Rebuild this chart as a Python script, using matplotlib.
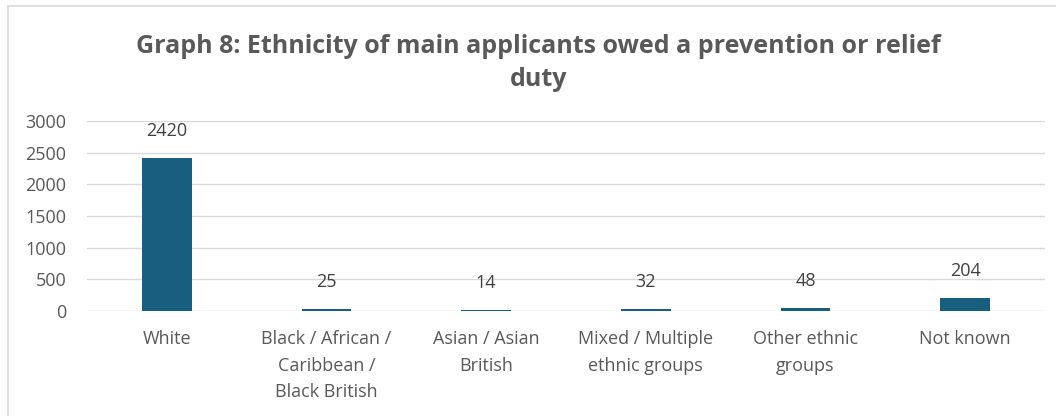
import matplotlib.pyplot as plt
from matplotlib.patches import Rectangle

# ---- data ----
categories = ["White", "Black / African /\nCaribbean /\nBlack British", "Asian / Asian\nBritish",
              "Mixed / Multiple\nethnic groups", "Other ethnic\ngroups", "Not known"]
counts = [2420, 25, 14, 32, 48, 204]
yticks = [0, 500, 1000, 1500, 2000, 2500, 3000]

bar_col = "#175e7f"
txt_col = "#595959"

plt.rcParams['font.family'] = ['Open Sans', 'DejaVu Sans']

W, H = 1056, 416
fig = plt.figure(figsize=(W / 100, H / 100), dpi=100)

# chart frame
fig.patches.append(Rectangle((8 / W, -0.1), 1.2, 1 - 6 / H + 0.1, transform=fig.transFigure,
                             facecolor="none", edgecolor="#d9d9d9", lw=1.2))

ax = fig.add_axes([87 / W, 1 - 311 / H, (1045 - 87) / W, (311 - 121) / H])
x = range(len(categories))
bars = ax.bar(x, counts, width=0.31, color=bar_col, zorder=3)
for b, v in zip(bars, counts):
    ax.annotate(str(v), (b.get_x() + b.get_width() / 2, v), xytext=(0, 13),
                textcoords="offset points", ha="center", va="bottom",
                fontsize=13, color="#404040")

ax.set_xlim(-0.5, len(categories) - 0.5)
ax.set_ylim(0, 3000)
ax.set_yticks(yticks)
ax.set_xticks(list(x))
ax.set_xticklabels(categories, linespacing=1.6)
ax.tick_params(axis="y", length=0, pad=15, labelsize=13, labelcolor=txt_col)
ax.tick_params(axis="x", length=0, pad=14, labelsize=13, labelcolor=txt_col)
ax.grid(axis="y", color="#d9d9d9", lw=1, zorder=0)
for s in ax.spines.values():
    s.set_visible(False)

fig.text(0.51, 1 - 63 / H, "Graph 8: Ethnicity of main applicants owed a prevention or relief\nduty",
         ha="center", va="center", fontsize=18, fontweight="bold", color=txt_col,
         linespacing=1.45)

fig.savefig("out.png", dpi=100)
